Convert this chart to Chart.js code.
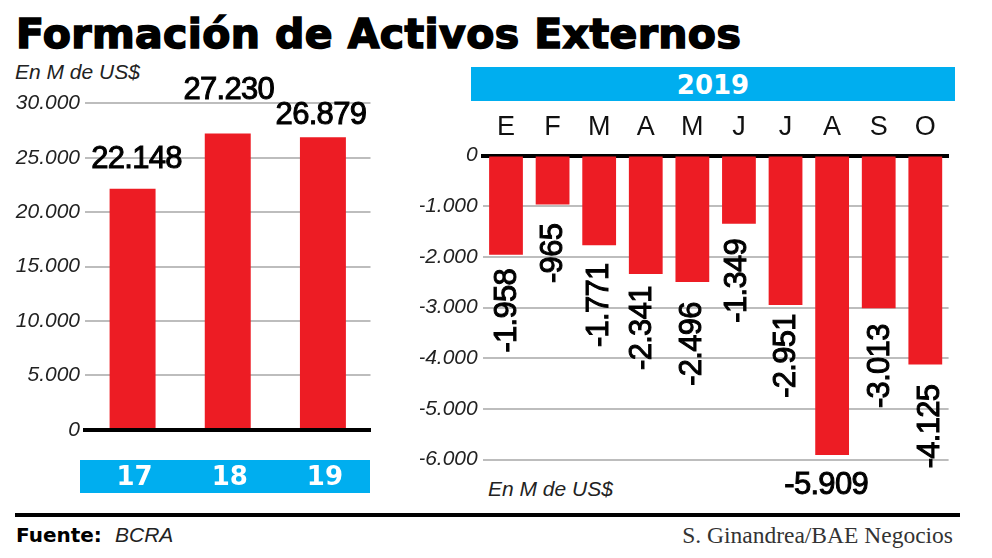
<!DOCTYPE html>
<html lang="es">
<head>
<meta charset="utf-8">
<title>Formación de Activos Externos</title>
<script src="https://cdn.jsdelivr.net/npm/chart.js@4"></script>
<style>
  html, body { margin: 0; padding: 0; background: #fff; }
  #page { position: relative; width: 992px; height: 558px; overflow: hidden; color: #111; }
  #page > * { position: absolute; }
  canvas { display: block; }
  .title { left: 16px; top: 10px; font: bold 41px "DejaVu Sans"; letter-spacing: 0.4px; -webkit-text-stroke: 1.6px #000; color: #000; white-space: nowrap; }
  .unit { font: italic 21px "Liberation Sans"; white-space: nowrap; color: #222; }
  .band { background: #00aeef; }
  .bandText { left: 471px; top: 67px; width: 484px; height: 34px; text-align: center; font: bold 26px/36px "DejaVu Sans"; color: #fff; }
  .rule { left: 15px; top: 513px; width: 945px; height: 3.5px; background: #000; }
  .source { left: 16px; top: 523px; font: bold 20px "DejaVu Sans"; color: #000; white-space: nowrap; }
  .sourceName { left: 115px; top: 523px; font: italic 21px "Liberation Sans"; color: #222; }
  .credit { right: 39px; top: 522px; font: 23.5px "Liberation Serif"; color: #333; white-space: nowrap; }
</style>
</head>
<body>
<div id="page">
  <div class="title">Formación de Activos Externos</div>
  <div class="unit" style="left:15px;top:60px">En M de US$</div>
  <div class="band" style="left:80px;top:460px;width:290px;height:33px"></div>
  <div class="band bandText">2019</div>
  <div class="unit" style="left:488px;top:477px">En M de US$</div>
  <div class="rule"></div>
  <div class="source">Fuente:</div>
  <div class="sourceName">BCRA</div>
  <div class="credit">S. Ginandrea/BAE Negocios</div>
  <canvas id="annualChart" width="400" height="440" style="left:0;top:60px"></canvas>
  <canvas id="monthlyChart" width="535" height="410" style="left:420px;top:100px"></canvas>
</div>
<script>
// Datos
const years = ["17", "18", "19"];
const yearTotals = [22148, 27230, 26879];
const months = ["E", "F", "M", "A", "M", "J", "J", "A", "S", "O"];
const monthValues = [-1958, -965, -1771, -2341, -2496, -1349, -2951, -5909, -3013, -4125];

const RED = "#ed1c24";
const GRID = "#bdbdbd";
const AXIS_FONT = { family: "Liberation Sans", style: "italic", size: 21 };

const fmt = v => v.toLocaleString("es-AR");

// Value labels, hand placed around each bar like the newspaper did it
const barLabels = {
  id: "barLabels",
  afterDatasetsDraw(chart, args, opts) {
    const { ctx } = chart;
    const bars = chart.getDatasetMeta(0).data;
    ctx.save();
    ctx.fillStyle = "#000";
    ctx.strokeStyle = "#000";
    ctx.lineWidth = 1;
    ctx.font = "31px 'Liberation Sans'";
    ctx.letterSpacing = "-0.7px";
    ctx.textAlign = "center";
    ctx.textBaseline = "middle";
    bars.forEach((bar, i) => {
      const [dx, dy, upright] = opts.offsets[i];
      const text = fmt(chart.data.datasets[0].data[i]);
      ctx.save();
      ctx.translate(bar.x + dx, bar.y + dy);
      if (!upright) ctx.rotate(-Math.PI / 2);
      ctx.fillText(text, 0, 0);
      ctx.strokeText(text, 0, 0);
      ctx.restore();
    });
    ctx.restore();
  }
};

function yAxis(width, min, max, step) {
  return {
    min, max,
    afterFit: s => { s.width = width; },
    border: { display: false },
    grid: {
      drawTicks: false,
      lineWidth: 2,
      color: c => (c.tick && c.tick.value === 0 ? "#000" : GRID)
    },
    ticks: {
      stepSize: step,
      padding: 5,
      color: "#222",
      font: AXIS_FONT,
      callback: v => fmt(v)
    }
  };
}

new Chart(document.getElementById("annualChart"), {
  type: "bar",
  plugins: [barLabels],
  data: {
    labels: years,
    datasets: [{ data: yearTotals, backgroundColor: RED, barPercentage: 1, categoryPercentage: 0.483 }]
  },
  options: {
    responsive: false,
    animation: false,
    layout: { padding: { top: 43.3, right: 29.5 } },
    plugins: {
      legend: { display: false },
      tooltip: { enabled: false },
      barLabels: { offsets: [[4, -29.4, true], [1, -42.7, true], [-2, -21.6, true]] }
    },
    scales: {
      x: {
        afterFit: s => { s.height = 70.3; },
        border: { color: "#000", width: 4, z: 1 },
        grid: { display: false, drawTicks: false },
        ticks: {
          padding: 33,
          labelOffset: 2,
          color: "#fff",
          maxRotation: 0,
          font: { family: "DejaVu Sans", weight: "bold", size: 26 }
        }
      },
      y: yAxis(85, 0, 30000, 5000)
    }
  }
});

new Chart(document.getElementById("monthlyChart"), {
  type: "bar",
  plugins: [barLabels],
  data: {
    labels: months,
    datasets: [{ data: monthValues, backgroundColor: RED, barPercentage: 1, categoryPercentage: 0.725 }]
  },
  options: {
    responsive: false,
    animation: false,
    layout: { padding: { bottom: 50.5, right: 6.4 } },
    plugins: {
      legend: { display: false },
      tooltip: { enabled: false },
      barLabels: {
        offsets: [[1, 56], [1, 49], [0, 60], [-3, 54], [0, 62], [-1, 57], [1, 51], [-6, 31, true], [2, 58], [5, 62]]
      }
    },
    scales: {
      x: {
        position: "top",
        afterFit: s => { s.height = 55.5; },
        border: { color: "#000", width: 4 },
        grid: { display: false, drawTicks: false },
        ticks: {
          padding: 12,
          color: "#111",
          maxRotation: 0,
          autoSkip: false,
          font: { family: "Liberation Sans", size: 27 }
        }
      },
      y: yAxis(62.7, -6000, 0, 1000)
    }
  }
});
</script>
</body>
</html>
